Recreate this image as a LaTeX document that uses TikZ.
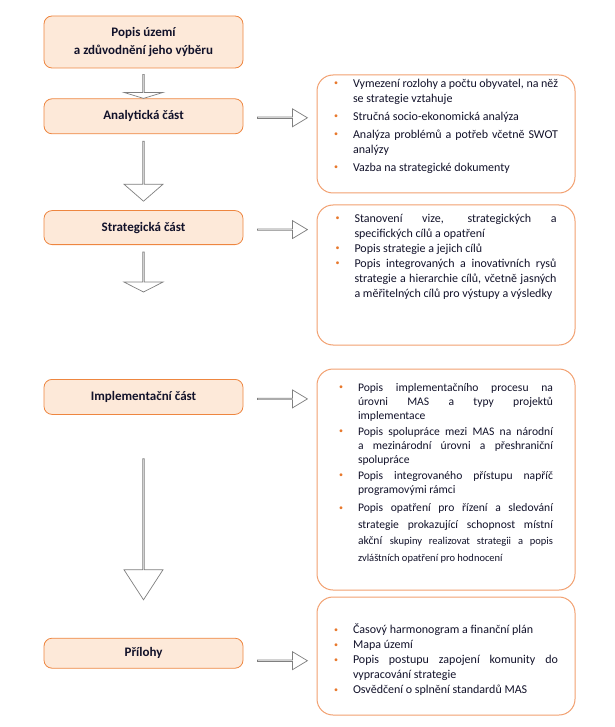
\documentclass[tikz,border=0pt]{standalone}
\usepackage{fontspec}
\setmainfont{Carlito}
\usetikzlibrary{positioning, shapes.arrows}
\definecolor{lboxfill}{HTML}{FDE9D9}
\definecolor{lboxline}{HTML}{EE8640}
\definecolor{rboxline}{HTML}{F2A070}
\definecolor{bulcol}{HTML}{E8782C}
\definecolor{txtcol}{HTML}{12122A}
\definecolor{arrline}{HTML}{7F7F7F}
\newcommand{\bitem}[1]{\par\noindent\hangindent=19pt\hangafter=1\makebox[19pt][l]{\textcolor{bulcol}{\raisebox{0.25ex}{\footnotesize\textbullet}}}#1\par}
\newcommand{\rtext}[4]{\parbox[c][#1][t]{#2}{\hyphenpenalty=10000\exhyphenpenalty=10000\tolerance=9999\vspace*{#3}#4}}
\tikzset{lbox/.style={rectangle,draw=lboxline,fill=lboxfill,line width=0.8pt,rounded corners=8pt,minimum width=199pt,align=center,text=txtcol,font=\fontsize{13}{17.6}\selectfont\bfseries,inner sep=0pt},
rbox/.style={rectangle,draw=rboxline,fill=white,line width=1pt,rounded corners=16pt,minimum width=258pt,inner xsep=0pt,inner ysep=0pt,text=txtcol,font=\fontsize{12}{15}\selectfont},
varrow/.style={single arrow,draw=arrline,fill=white,line width=0.7pt,minimum width=39pt,single arrow head extend=10pt,inner sep=0pt,outer sep=0pt,rotate=-90,anchor=tail},
harrow/.style={single arrow,draw=arrline,fill=white,line width=0.7pt,minimum width=18pt,minimum height=50pt,single arrow head extend=4pt,single arrow tip angle=62,inner sep=0pt,outer sep=0pt,anchor=tail}}

\begin{document}
\begin{tikzpicture}[x=1pt,y=-1pt]
\useasboundingbox (0,0) rectangle (614,727);
% left column
\node[lbox, minimum height=52pt] (popis) at (143.5,42) {Popis území\\a zdůvodnění jeho výběru};
\node[lbox, minimum height=35pt, below=30pt of popis] (analyt) {Analytická část};
\node[lbox, minimum height=34pt, below=76pt of analyt] (strat) {Strategická část};
\node[lbox, minimum height=35pt, below=134pt of strat] (impl) {Implementační část};
\node[lbox, minimum height=30pt, below=223pt of impl] (prilohy) {Přílohy};
% right column
\node[rbox] (ranalyt) at (446,134) {\rtext{118pt}{224pt}{4pt}{%
\bitem{Vymezení rozlohy a počtu obyvatel, na něž se strategie vztahuje}\vspace{3pt}
\bitem{Stručná socio-ekonomická analýza}\vspace{3pt}
\bitem{Analýza problémů a potřeb včetně SWOT analýzy}\vspace{3pt}
\bitem{Vazba na strategické dokumenty}}};
\node[rbox] (rstrat) at (446,275) {\rtext{140pt}{221pt}{9pt}{%
\bitem{Stanovení vize, strategických a specifických cílů a opatření}
\bitem{Popis strategie a jejich cílů}
\bitem{Popis integrovaných a inovativních rysů strategie a hierarchie cílů, včetně jasných a měřitelných cílů pro výstupy a výsledky}}};
\node[rbox] (rimpl) at (446,479.5) {\rtext{221pt}{214pt}{14pt}{\fontsize{11.6}{14}\selectfont
\bitem{Popis implementačního procesu na\linebreak úrovni MAS a typy projektů\linebreak implementace}\vspace{2pt}
\bitem{Popis spolupráce mezi MAS na národní a mezinárodní úrovni a přeshraniční spolupráce}\vspace{2pt}
\bitem{Popis integrovaného přístupu napříč programovými rámci}\vspace{2pt}
{\baselineskip=16.5pt\bitem{Popis opatření pro řízení a sledování strategie prokazující schopnost místní akční {\fontsize{10.5}{16.5}\selectfont skupiny realizovat strategii a popis zvláštních opatření pro hodnocení}}}}};
\node[rbox] (rprilohy) at (446,656) {\rtext{118pt}{224pt}{27pt}{%
\bitem{Časový harmonogram a finanční plán}
\bitem{Mapa území}
\bitem{Popis postupu zapojení komunity do vypracování strategie}
\bitem{Osvědčení o splnění standardů MAS}}};
% down arrows
\node[varrow, minimum height=24pt, single arrow tip angle=146] (d1) at ([yshift=-6pt]popis.south) {};
\node[varrow, minimum height=60pt, single arrow tip angle=98] (d2) at ([yshift=-7pt]analyt.south) {};
\node[varrow, minimum height=40pt, single arrow tip angle=126] (d3) at ([yshift=-7pt]strat.south) {};
\node[varrow, minimum height=141pt, single arrow tip angle=66] (d4) at ([yshift=-44pt]impl.south) {};
% side arrows
\node[harrow] (s1) at ([xshift=14pt,yshift=-1.5pt]analyt.east) {};
\node[harrow] (s2) at ([xshift=14pt,yshift=-2pt]strat.east) {};
\node[harrow] (s3) at ([xshift=14pt,yshift=-2pt]impl.east) {};
\node[harrow] (s4) at ([xshift=14pt,yshift=-7.5pt]prilohy.east) {};
\end{tikzpicture}
\end{document}
